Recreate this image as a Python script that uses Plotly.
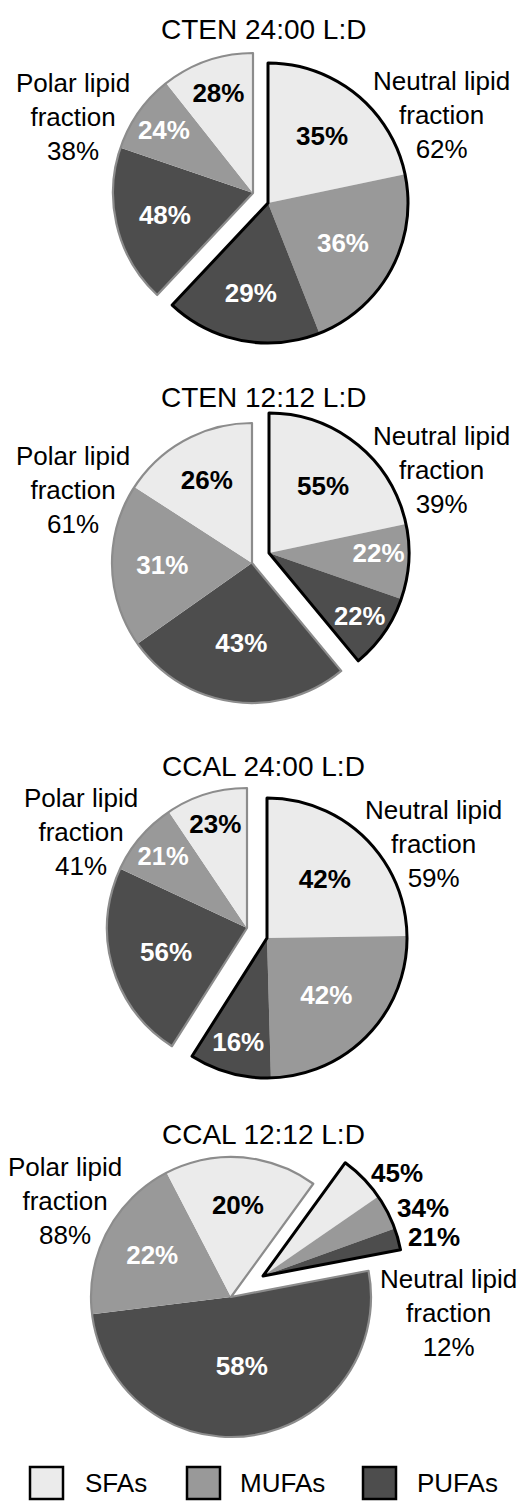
import math
import plotly.graph_objects as go

# Fatty-acid composition of the neutral and polar lipid fractions
titles = ["CTEN 24:00 L:D", "CTEN 12:12 L:D", "CCAL 24:00 L:D", "CCAL 12:12 L:D"]
neutral_frac = [62, 39, 59, 12]
polar_frac = [38, 61, 41, 88]
neutral_sfa = [35, 55, 42, 45]
neutral_mufa = [36, 22, 42, 34]
neutral_pufa = [29, 22, 16, 21]
polar_sfa = [28, 26, 23, 20]
polar_mufa = [24, 31, 21, 22]
polar_pufa = [48, 43, 56, 58]
classes = ["SFAs", "MUFAs", "PUFAs"]

# ---- page geometry (pixels) ----
W, H = 522, 1501
R = 140
polar_center = [(253, 193), (252, 563), (247, 928), (231, 1297)]
neutral_center = [(268, 203), (269, 553), (267, 938), (263, 1276)]
start_angle = [0, 0, 0, 36]
neutral_outside_text = [False, False, False, True]
outside_radius = 148
title_pos = [(263, 29), (263, 397), (263, 766), (263, 1134)]
polar_label_pos = [(73, 117), (73, 490), (81, 832), (65, 1201)]
neutral_label_pos = [(441, 115), (441, 470), (433, 844), (448, 1313)]

FONT = "Liberation Sans, Arial, sans-serif"
LIGHT, MID, DARK = "#ebebeb", "#999999", "#4d4d4d"
CLEAR = "rgba(0,0,0,0)"
POLAR_EDGE = "#8c8c8c"
fill = {"SFAs": LIGHT, "MUFAs": MID, "PUFAs": DARK}
ink = {"SFAs": "black", "MUFAs": "white", "PUFAs": "white"}


def domain(c):
    cx, cy = c
    return dict(x=[(cx - R) / W, (cx + R) / W], y=[1 - (cy + R) / H, 1 - (cy - R) / H])


def px(x, y):
    return x / W, 1 - y / H


fig = go.Figure()
annotations = []

for i in range(4):
    N, P = neutral_frac[i], polar_frac[i]
    n_pct = [neutral_sfa[i], neutral_mufa[i], neutral_pufa[i]]
    p_pct = [polar_pufa[i], polar_mufa[i], polar_sfa[i]]
    p_cls = ["PUFAs", "MUFAs", "SFAs"]
    n_sum, p_sum = sum(n_pct), sum(p_pct)
    n_vals = [N * v / n_sum for v in n_pct]
    p_vals = [P * v / p_sum for v in p_pct]
    common = dict(sort=False, direction="clockwise", rotation=start_angle[i],
                  hoverinfo="skip", showlegend=False)

    # polar fraction: PUFAs, MUFAs, SFAs ending at the starting angle
    fig.add_trace(go.Pie(
        labels=["neutral"] + p_cls,
        values=[N] + p_vals,
        marker=dict(colors=[CLEAR] + [fill[c] for c in p_cls], line=dict(width=0)),
        text=[""] + [f"<b>{v}%</b>" for v in p_pct],
        textinfo="text",
        textposition=["none", "inside", "inside", "inside"],
        insidetextorientation="horizontal",
        textfont=dict(family=FONT, size=26, color=["black"] + [ink[c] for c in p_cls]),
        domain=domain(polar_center[i]), **common))
    fig.add_trace(go.Pie(
        labels=["neutral", "polar"], values=[N, P],
        marker=dict(colors=[CLEAR, CLEAR], line=dict(color=[CLEAR, POLAR_EDGE], width=[0, 2.2])),
        textinfo="none", domain=domain(polar_center[i]), **common))

    # neutral fraction (exploded): SFAs, MUFAs, PUFAs clockwise from the start
    out = neutral_outside_text[i]
    fig.add_trace(go.Pie(
        labels=classes + ["polar"],
        values=n_vals + [P],
        marker=dict(colors=[fill[c] for c in classes] + [CLEAR], line=dict(width=0)),
        text=[f"<b>{v}%</b>" for v in n_pct] + [""],
        textinfo="text",
        textposition=(["none"] * 4 if out else ["inside"] * 3 + ["none"]),
        insidetextorientation="horizontal",
        textfont=dict(family=FONT, size=26,
                      color=[ink[c] for c in classes] + ["black"]),
        domain=domain(neutral_center[i]), **common))
    fig.add_trace(go.Pie(
        labels=["neutral", "polar"], values=[N, P],
        marker=dict(colors=[CLEAR, CLEAR], line=dict(color=["black", CLEAR], width=[3, 0])),
        textinfo="none", domain=domain(neutral_center[i]), **common))

    # narrow slices: percentages beside the arc, at each slice's mid-angle
    if out:
        cx, cy = neutral_center[i]
        acc = 0.0
        for v, pct in zip(n_vals, n_pct):
            mid = math.radians(start_angle[i] + (acc + v / 2) / (N + P) * 360)
            acc += v
            ax, ay = px(cx + outside_radius * math.sin(mid), cy - outside_radius * math.cos(mid))
            annotations.append(dict(text=f"<b>{pct}%</b>", x=ax, y=ay, xanchor="left"))

    tx, ty = px(*title_pos[i])
    annotations.append(dict(text=titles[i], x=tx, y=ty, font=dict(size=28)))
    lx, ly = px(*polar_label_pos[i])
    annotations.append(dict(text=f"Polar lipid<br>fraction<br>{P}%", x=lx, y=ly))
    lx, ly = px(*neutral_label_pos[i])
    annotations.append(dict(text=f"Neutral lipid<br>fraction<br>{N}%", x=lx, y=ly))

# legend: boxes and class names
shapes = []
legend_box_x = [30, 187, 363]
legend_text_x = [83, 238, 415]
box_top, box_bottom = 1467, 1499
for c, bx, tx in zip(classes, legend_box_x, legend_text_x):
    x0, y0 = px(bx, box_bottom)
    x1, y1 = px(bx + 33, box_top)
    shapes.append(dict(type="rect", xref="paper", yref="paper", x0=x0, x1=x1, y0=y0, y1=y1,
                       fillcolor=fill[c], line=dict(color="black", width=2.5)))
    ax, ay = px(tx, (box_top + box_bottom) / 2)
    annotations.append(dict(text=c, x=ax, y=ay, xanchor="left"))

for a in annotations:
    a.setdefault("xref", "paper")
    a.setdefault("yref", "paper")
    a.setdefault("showarrow", False)
    a.setdefault("xanchor", "center")
    a.setdefault("yanchor", "middle")
    f = a.setdefault("font", {})
    f.setdefault("size", 26)
    f.setdefault("family", FONT)
    f.setdefault("color", "black")

fig.update_layout(
    width=W, height=H, margin=dict(l=0, r=0, t=0, b=0),
    paper_bgcolor="white", plot_bgcolor="white",
    font=dict(family=FONT, color="black"),
    annotations=annotations, shapes=shapes, showlegend=False,
)

fig.write_html("out.html")
